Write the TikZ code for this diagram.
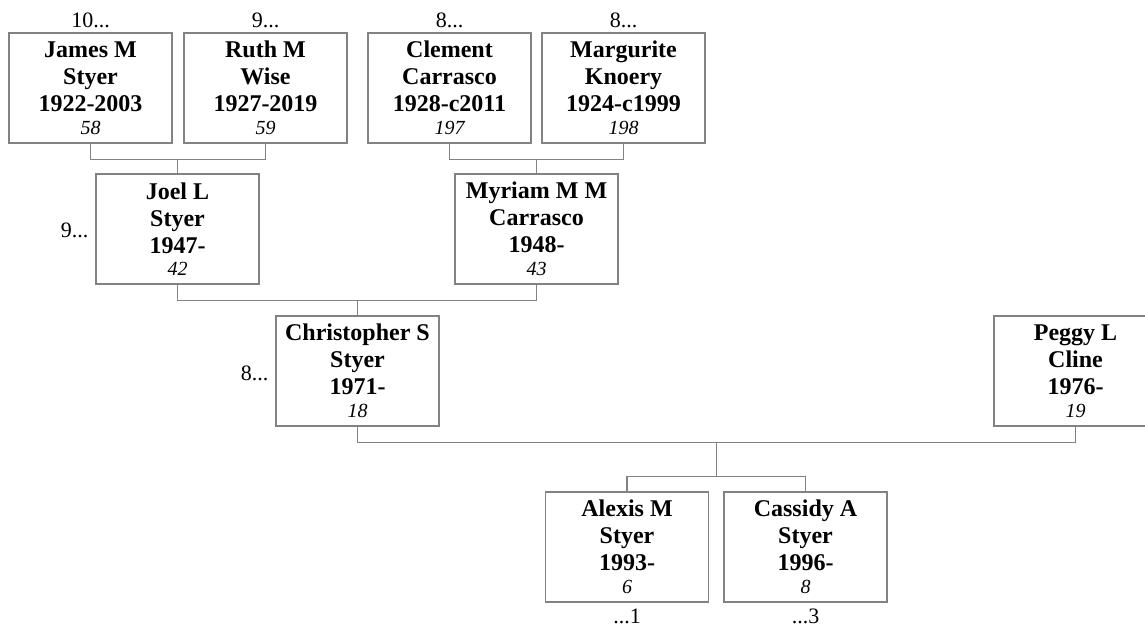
\documentclass[tikz,border=0pt]{standalone}
\usepackage{fontspec}
\setmainfont{Liberation Serif}
\usetikzlibrary{calc}
\definecolor{linegray}{RGB}{130,130,130}
\tikzset{
  person/.style={draw=linegray, line width=1.1pt, minimum width=163pt, minimum height=110pt,
    inner sep=0pt, align=center, text=black, font=\fontsize{24}{27}\selectfont},
  lab/.style={inner sep=0pt, text=black, font=\fontsize{22}{26}\selectfont},
  conn/.style={draw=linegray, line width=1.1pt}
}
\newcommand{\pname}[4]{\textbf{#1}\\\textbf{#2}\\\textbf{#3}\\[-4.5pt]{\fontsize{20}{27}\selectfont\itshape #4}}
\begin{document}
\begin{tikzpicture}[x=1pt,y=-1pt]
\useasboundingbox (0,0) rectangle (1145,628);
\clip (0,0) rectangle (1145,628);
% boxes
\node[person] (james) at (90.5,88) {\pname{James M}{Styer}{1922-2003}{58}};
\node[person] (ruth) at (265.5,88) {\pname{Ruth M}{Wise}{1927-2019}{59}};
\node[person] (clement) at (449.5,88) {\pname{Clement}{Carrasco}{1928-c2011}{197}};
\node[person] (marg) at (623.5,88) {\pname{Margurite}{Knoery}{1924-c1999}{198}};
\node[person] (joel) at (177.5,229) {\pname{Joel L}{Styer}{1947-}{42}};
\node[person] (myriam) at (536.5,229) {\pname{Myriam M M}{Carrasco}{1948-}{43}};
\node[person] (chris) at (357.5,371) {\pname{Christopher S}{Styer}{1971-}{18}};
\node[person] (peggy) at (1075.5,371) {\pname{Peggy L}{Cline}{1976-}{19}};
\node[person] (alexis) at (627,547) {\pname{Alexis M}{Styer}{1993-}{6}};
\node[person] (cassidy) at (805.5,547) {\pname{Cassidy A}{Styer}{1996-}{8}};
% labels
\node[lab, anchor=base] (ljames) at ([yshift=5pt]james.north) {10...};
\node[lab, anchor=base] (lruth) at ([yshift=5pt]ruth.north) {9...};
\node[lab, anchor=base] (lclement) at ([yshift=5pt]clement.north) {8...};
\node[lab, anchor=base] (lmarg) at ([yshift=5pt]marg.north) {8...};
\node[lab, anchor=base east] (ljoel) at ([xshift=-7pt,yshift=-9pt]joel.west) {9...};
\node[lab, anchor=base east] (lchris) at ([xshift=-7pt,yshift=-9pt]chris.west) {8...};
\node[lab, anchor=base] (lalexis) at ([yshift=-21pt]alexis.south) {...1};
\node[lab, anchor=base] (lcassidy) at ([yshift=-21pt]cassidy.south) {...3};
% connectors
\draw[conn] (james.south) -- ++(0,16) coordinate (b1) -| (ruth.south);
\draw[conn] (joel.north) -- (joel.north |- b1);
\draw[conn] (clement.south) -- ++(0,16) coordinate (b2) -| (marg.south);
\draw[conn] (myriam.north) -- (myriam.north |- b2);
\draw[conn] (joel.south) -- ++(0,16) coordinate (b3) -| (myriam.south);
\draw[conn] (chris.north) -- (chris.north |- b3);
\draw[conn] (chris.south) -- ++(0,16) coordinate (b4) -| (peggy.south);
\coordinate (cm) at ($(b4)!0.5!(peggy.south |- b4)$);
\draw[conn] (cm) -- ++(0,34) coordinate (sb);
\draw[conn] (alexis.north) -- (alexis.north |- sb) -- (cassidy.north |- sb) -- (cassidy.north);
\end{tikzpicture}
\end{document}
